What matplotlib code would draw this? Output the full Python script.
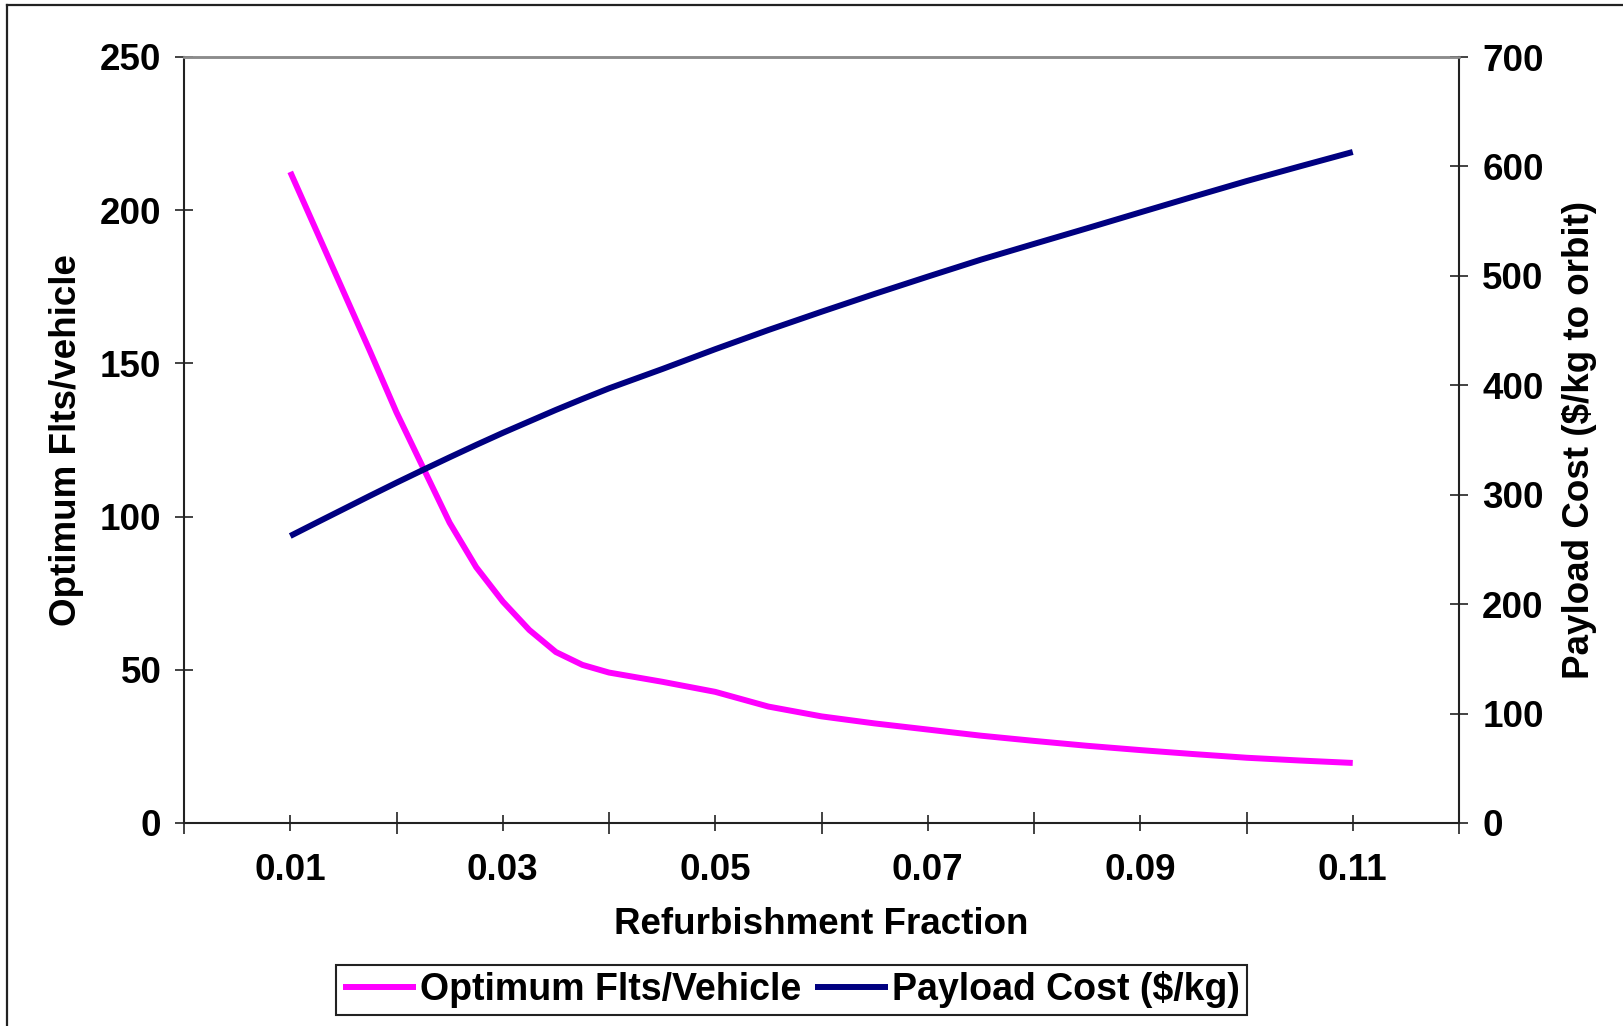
import matplotlib
matplotlib.use("Agg")
import matplotlib.pyplot as plt
from matplotlib.lines import Line2D

# ---- data ----
refurb_fraction = [0.010, 0.0125, 0.015, 0.0175, 0.020, 0.0225, 0.025, 0.0275, 0.030,
                   0.0325, 0.035, 0.0375, 0.040, 0.045, 0.050, 0.055, 0.060, 0.065,
                   0.070, 0.075, 0.080, 0.085, 0.090, 0.095, 0.100, 0.105, 0.110]
flts_per_vehicle = [212.5, 193.0, 173.5, 154.0, 134.0, 116.0, 98.0, 83.5, 72.3,
                    63.0, 55.8, 51.6, 49.1, 46.1, 42.8, 38.0, 34.8, 32.5,
                    30.5, 28.5, 26.8, 25.2, 23.8, 22.5, 21.3, 20.4, 19.6]
payload_cost = [262.3, 274.6, 286.8, 299.0, 311.0, 322.7, 334.2, 345.5, 356.5,
                367.0, 377.5, 387.5, 397.2, 414.8, 433.0, 450.5, 467.2, 483.5,
                499.3, 514.8, 529.2, 543.5, 558.0, 572.4, 586.6, 600.0, 613.2]

x_label_ticks = [0.01, 0.03, 0.05, 0.07, 0.09, 0.11]
x_label_text = ["0.01", "0.03", "0.05", "0.07", "0.09", "0.11"]
x_minor_ticks = [0.00, 0.02, 0.04, 0.06, 0.08, 0.10, 0.12]
left_ticks = [0, 50, 100, 150, 200, 250]
right_ticks = [0, 100, 200, 300, 400, 500, 600, 700]

series_names = ["Optimum Flts/Vehicle", "Payload Cost ($/kg)"]
x_title = "Refurbishment Fraction"
left_title = "Optimum Flts/vehicle"
right_title = "Payload Cost ($/kg to orbit)"

plt.rcParams['font.family'] = ['Liberation Sans', 'DejaVu Sans']
plt.rcParams['font.weight'] = 'bold'

FS = 26.5
fig = plt.figure(figsize=(16.23, 10.26), dpi=100)
ax = fig.add_axes([184/1623, 1-823/1026, (1459-184)/1623, (823-57)/1026])
ax2 = ax.twinx()

l1, = ax.plot(refurb_fraction, flts_per_vehicle, color='#FF00FF', lw=4.3,
              solid_joinstyle='round', solid_capstyle='butt')
l2, = ax2.plot(refurb_fraction, payload_cost, color='#000080', lw=4.3,
               solid_joinstyle='round', solid_capstyle='butt')

ax.set_xlim(0.0, 0.12)
ax.set_ylim(0, 250)
ax2.set_ylim(0, 700)

ax.set_xticks(x_label_ticks)
ax.set_xticklabels(x_label_text)
ax.set_xticks(x_minor_ticks, minor=True)
ax.set_yticks(left_ticks)
ax2.set_yticks(right_ticks)

tick_col = '#222222'
ax.tick_params(axis='x', which='major', direction='inout', length=11.5, width=1.2,
               color=tick_col, labelsize=FS, pad=16)
ax.tick_params(axis='x', which='minor', direction='inout', length=16.5, width=1.2,
               color=tick_col)
ax.tick_params(axis='y', which='major', direction='inout', length=13.4, width=1.2,
               color=tick_col, labelsize=FS, pad=9.5)
ax2.tick_params(axis='y', which='major', direction='inout', length=13.4, width=1.2,
                color=tick_col, labelsize=FS, pad=10)

for a in (ax, ax2):
    for s in ('left', 'right', 'bottom'):
        a.spines[s].set_color('#222222')
        a.spines[s].set_linewidth(1.5)
    a.spines['top'].set_color('#8c8c8c')
    a.spines['top'].set_linewidth(1.8)
ax.spines['right'].set_visible(False)
ax2.spines['left'].set_visible(False)
ax2.spines['bottom'].set_visible(False)

for lab in ax.get_xticklabels() + ax.get_yticklabels() + ax2.get_yticklabels():
    lab.set_fontweight('bold')

ax.set_xlabel(x_title, fontsize=FS, fontweight='bold', va='center')
ax.xaxis.set_label_coords(0.5, (823-925)/766)
ax.set_ylabel(left_title, fontsize=FS, fontweight='bold', va='center')
ax.yaxis.set_label_coords((67-184)/1275, 0.5)
ax2.set_ylabel(right_title, fontsize=FS, fontweight='bold', va='center', rotation=90)
ax2.yaxis.set_label_coords((1579-184)/1275, 0.5)

leg = fig.legend([l1, l2], series_names, loc='center', bbox_to_anchor=(791.5/1623, 1-990/1026),
                 ncol=2, frameon=True, fancybox=False, framealpha=1, edgecolor='#222222',
                 prop={'size': 27, 'weight': 'bold'}, handlelength=1.95, handletextpad=0.12,
                 columnspacing=0.35, borderpad=0.17, borderaxespad=0)
leg.get_frame().set_linewidth(1.5)

# outer chart border (partly outside the picture)
fig.add_artist(Line2D([7/1623, 7/1623], [0, 1-5/1026], transform=fig.transFigure,
                      color='#222222', lw=1.6))
fig.add_artist(Line2D([7/1623, 1], [1-5/1026, 1-5/1026], transform=fig.transFigure,
                      color='#222222', lw=1.6))

fig.savefig('out.png', dpi=100)
